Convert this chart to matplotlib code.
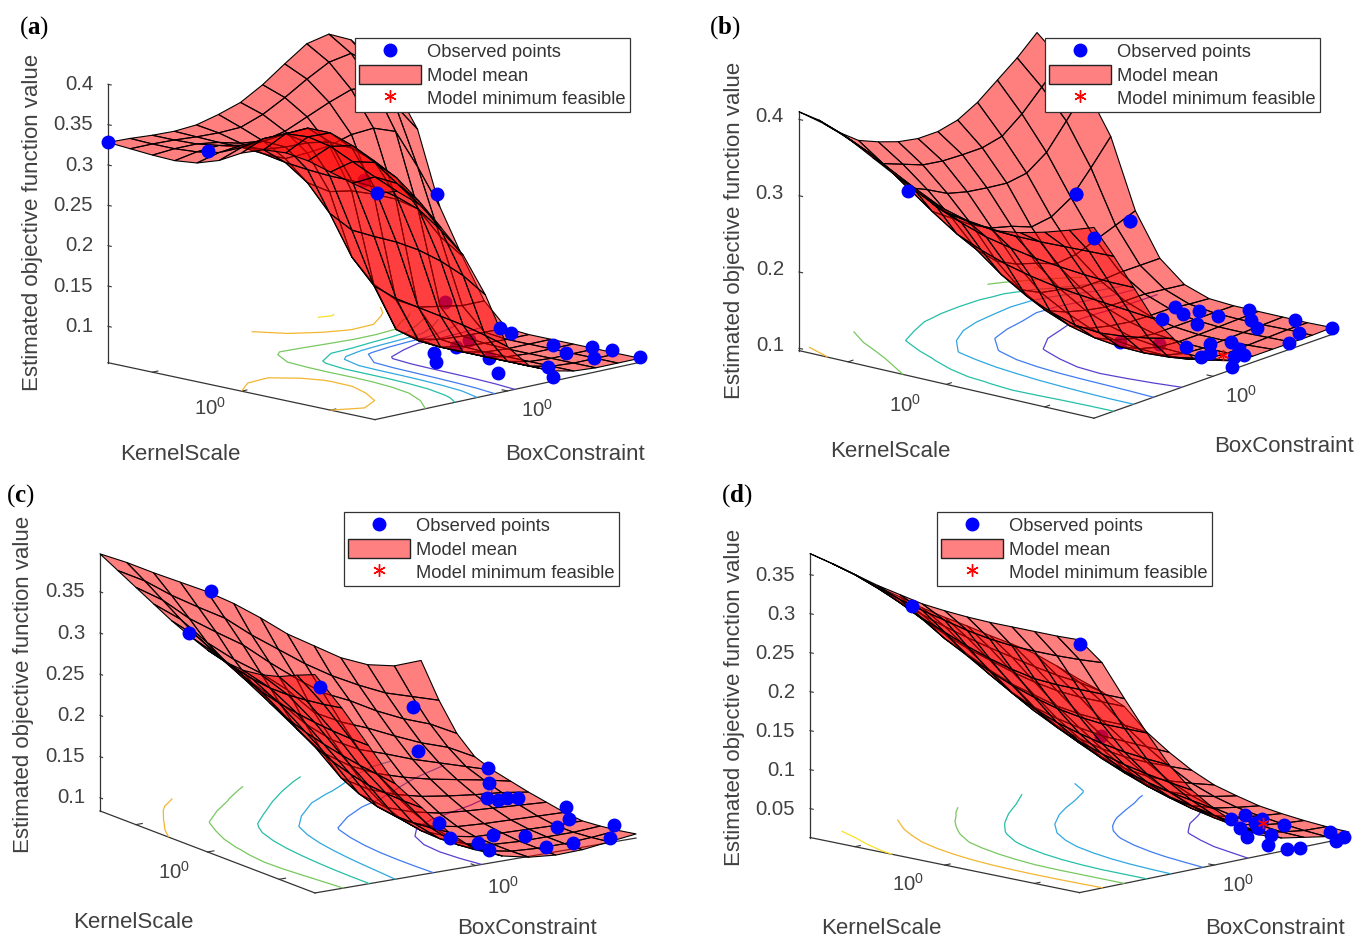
import numpy as np
import matplotlib
matplotlib.use('Agg')
import matplotlib.pyplot as plt
from matplotlib.lines import Line2D
from matplotlib.patches import Patch

plt.rcParams['font.family'] = 'Liberation Sans'
plt.rcParams['mathtext.fontset'] = 'custom'
plt.rcParams['mathtext.rm'] = 'Liberation Sans'
plt.rcParams['mathtext.bf'] = 'Liberation Serif:bold'
plt.rcParams['mathtext.default'] = 'regular'

# positions along the two log axes, 0.5 is 10^0
grid_pos = [0, 1/12, 2/12, 3/12, 4/12, 5/12, 6/12, 7/12, 8/12, 9/12, 10/12, 11/12, 1]

# estimated objective, rows go along BoxConstraint, columns along KernelScale
z_a = [
    [.328, .326, .324, .323, .326, .335, .350, .360, .362, .358, .350, .342, .335],
    [.327, .326, .326, .328, .333, .345, .362, .374, .376, .370, .357, .344, .332],
    [.325, .325, .326, .330, .336, .347, .362, .375, .375, .365, .350, .330, .310],
    [.324, .323, .322, .322, .325, .334, .345, .352, .350, .340, .325, .302, .275],
    [.326, .322, .315, .308, .303, .300, .298, .298, .296, .290, .280, .260, .235],
    [.333, .323, .312, .296, .272, .240, .225, .223, .222, .218, .210, .198, .180],
    [.342, .333, .318, .297, .255, .180, .150, .140, .135, .130, .125, .118, .110],
    [.358, .348, .330, .300, .250, .140, .090, .082, .080, .080, .080, .080, .080],
    [.378, .365, .342, .308, .240, .115, .072, .068, .068, .068, .068, .068, .068],
    [.397, .380, .352, .310, .228, .100, .066, .063, .062, .062, .062, .062, .062],
    [.403, .385, .350, .300, .210, .095, .064, .061, .060, .060, .060, .060, .060],
    [.390, .365, .320, .250, .170, .090, .063, .060, .060, .060, .060, .060, .060],
    [.360, .330, .285, .195, .140, .090, .062, .060, .060, .060, .060, .060, .060],
]
z_b = [
    [.410, .402, .390, .372, .354, .337, .322, .316, .313, .318, .326, .336, .347],
    [.390, .378, .363, .345, .328, .312, .303, .299, .297, .297, .298, .299, .300],
    [.365, .350, .333, .315, .296, .283, .272, .265, .259, .255, .252, .250, .250],
    [.345, .322, .298, .274, .252, .238, .227, .219, .213, .209, .206, .203, .200],
    [.334, .312, .286, .256, .222, .197, .177, .163, .153, .150, .153, .158, .165],
    [.325, .302, .272, .238, .198, .168, .148, .135, .127, .123, .122, .124, .130],
    [.320, .298, .265, .225, .185, .155, .137, .123, .115, .111, .110, .112, .118],
    [.320, .297, .261, .218, .177, .150, .130, .117, .108, .104, .103, .104, .108],
    [.326, .297, .258, .208, .167, .143, .125, .113, .105, .102, .101, .102, .105],
    [.340, .303, .262, .212, .170, .143, .124, .112, .105, .102, .102, .103, .105],
    [.360, .323, .280, .228, .180, .145, .124, .112, .105, .103, .103, .104, .105],
    [.380, .349, .312, .258, .190, .145, .121, .109, .105, .104, .104, .105, .105],
    [.404, .375, .345, .290, .200, .145, .118, .107, .105, .105, .105, .105, .106],
]
z_c = [
    [.396, .384, .372, .360, .348, .338, .329, .323, .321, .324, .330, .340, .349],
    [.380, .366, .351, .336, .322, .310, .302, .297, .294, .294, .296, .299, .303],
    [.362, .343, .323, .302, .288, .276, .268, .262, .258, .255, .253, .252, .252],
    [.345, .323, .301, .276, .256, .240, .229, .221, .215, .210, .206, .203, .200],
    [.328, .304, .280, .254, .228, .203, .190, .180, .173, .168, .166, .165, .165],
    [.308, .278, .253, .228, .195, .168, .146, .135, .128, .125, .125, .127, .130],
    [.285, .255, .228, .195, .170, .147, .127, .113, .105, .101, .100, .101, .103],
    [.260, .232, .205, .178, .153, .132, .115, .102, .093, .089, .088, .088, .090],
    [.240, .212, .190, .165, .142, .122, .107, .095, .087, .083, .082, .082, .083],
    [.220, .195, .172, .150, .130, .114, .102, .092, .085, .082, .080, .080, .080],
    [.206, .180, .157, .136, .120, .108, .098, .090, .084, .081, .080, .080, .081],
    [.199, .170, .145, .125, .110, .102, .095, .088, .083, .080, .080, .082, .085],
    [.200, .160, .128, .108, .100, .095, .090, .086, .082, .080, .082, .085, .089],
]
z_d = [
    [.377, .370, .362, .354, .348, .342, .339, .337, .336, .336, .336, .336, .337],
    [.358, .350, .340, .330, .322, .315, .308, .303, .300, .299, .299, .300, .302],
    [.338, .327, .314, .300, .288, .276, .266, .258, .252, .250, .250, .250, .250],
    [.317, .303, .287, .268, .252, .238, .226, .216, .208, .203, .200, .200, .200],
    [.298, .281, .262, .242, .222, .204, .190, .178, .170, .163, .158, .155, .153],
    [.278, .260, .238, .216, .193, .175, .160, .148, .138, .130, .124, .119, .115],
    [.260, .240, .217, .192, .168, .150, .134, .120, .110, .102, .095, .090, .085],
    [.243, .221, .196, .172, .148, .128, .110, .096, .085, .077, .071, .065, .060],
    [.225, .203, .177, .152, .130, .109, .090, .075, .064, .056, .050, .045, .040],
    [.208, .185, .160, .136, .114, .093, .074, .060, .048, .041, .036, .032, .030],
    [.190, .168, .146, .122, .101, .080, .062, .049, .039, .033, .029, .026, .025],
    [.168, .153, .134, .110, .088, .069, .053, .042, .034, .029, .025, .022, .020],
    [.145, .135, .122, .095, .075, .058, .045, .037, .030, .026, .023, .021, .020],
]

# observed points: kernel position, box position, objective
obs_a_k = [0, .24, .75, .24, .717, .93, .683, .608, .792, .886, .883, .947, .982, 1, .973, .965]
obs_a_b = [0, .134, .26, 1, .515, .535, .792, .908, .882, .836, .937, .948, .844, 1, .68, .707]
obs_a_z = [.328, .325, .30, .21, .07, .07, .09, .07, .07, .07, .07, .07, .07, .062, .07, .055]
hid_a_k = [.615, .63, .658, .625, .635, .783]
hid_a_b = [.346, .637, .70, .683, .59, .649]
hid_a_z = [.30, .13, .08, .07, .07, .07]

obs_b_k = [.353, .25, .34, .34, .619, .575, .632, .646, .719, .72, .746, .809, .868, .897, .981, 1, 1, .862, .892, .949, .915, .92, .986, 1, 1, .832]
obs_b_b = [.02, .856, .97, .82, .757, .867, .83, .88, .782, .87, .966, .897, .849, .972, .885, .82, 1, .658, .709, .672, .593, .548, .605, .63, .58, .595]
obs_b_z = [.335, .23, .19, .185, .11, .11, .11, .11, .11, .11, .11, .11, .11, .11, .11, .105, .106, .11, .11, .11, .11, .11, .11, .11, .10, .11]
hid_b_k = [.665, .76, .25, .34]
hid_b_b = [.525, .57, .856, .97]
hid_b_z = [.11, .11, .23, .19]
min_b = [.935, .623, .105]

obs_c_k = [.017, .406, .149, .14, .24, .31, .435, .524, .557, .553, .569, .699, .774, .856, .811, .931, .865, .988, .836, .786, .68, .993, .901, 1]
obs_c_b = [.334, .005, .586, .88, .83, 1, .92, .854, .867, .897, .921, .588, .572, .604, .681, .588, .744, .728, .864, .935, .996, .808, .998, .92]
obs_c_z = [.33, .34, .21, .165, .125, .10, .10, .095, .095, .095, .095, .10, .09, .09, .09, .09, .09, .09, .09, .09, .09, .09, .09, .09]

obs_d_k = [.37, .99, .734, .724, .792, .815, .832, .926, .887, .953, 1, 1, 1, 1, 1, 1, .866]
obs_d_b = [.01, .01, .828, .89, .885, .836, .764, .696, .871, .758, .70, .77, .82, .93, .95, .98, .797]
obs_d_z = [.335, .33, .03, .03, .03, .03, .03, .03, .03, .03, .025, .015, .012, .025, .012, .015, .03]
hid_d_k = [.80]
hid_d_b = [.28]
hid_d_z = [.18]
min_d = [.83, .85, .03]

ticks_a = [.1, .15, .2, .25, .3, .35, .4]
ticks_b = [.1, .2, .3, .4]
ticks_c = [.1, .15, .2, .25, .3, .35]
ticks_d = [.05, .1, .15, .2, .25, .3, .35]

levels_a = [.1, .15, .2, .25, .3, .35, .4]
levels_b = [.15, .2, .25, .3, .35, .4]
levels_c = [.1, .15, .2, .25, .3, .35]
levels_d = [.05, .1, .15, .2, .25, .3, .35]

parula = ['#5b3fd0', '#3f7cf0', '#2fa8e0', '#25bfa8', '#78c860', '#f2b632', '#f7e02a']

W_PX, H_PX = 1366, 940
TXT = '#404040'

fig = plt.figure(figsize=(W_PX / 100, H_PX / 100), dpi=100)


def px(x, y):
    return x / W_PX, 1 - y / H_PX


def place_axes(ax, left, right, z0, z1, zscale, azim, elev):
    # square axes position so the floor corners land on the wanted pixels
    a = np.radians(abs(azim))
    e = np.radians(elev)
    spread = np.sin(a) + np.cos(a)
    width = right[0] - left[0]
    bz = zscale * (z1 - z0) * spread / (width * np.cos(e))
    k = 1.8294640721620434 * 25 / 24 / np.linalg.norm([1, 1, bz])
    ax.set_box_aspect((1, 1, bz))
    ax.view_init(elev=elev, azim=azim)
    sc = width / (k * spread)
    x0, x1 = ax.viewLim.intervalx
    y0, y1 = ax.viewLim.intervaly
    side = sc * 10 * (x1 - x0)
    cx = (left[0] + right[0]) / 2
    cy = (left[1] + right[1]) / 2 - 0.5 * zscale * (z1 - z0)
    ax_left = cx - side * (-x0) / (x1 - x0)
    ax_bottom = (H_PX - cy) - side * (-y0) / (y1 - y0)
    ax.set_position([ax_left / W_PX, ax_bottom / H_PX, side / W_PX, side / H_PX])


def draw_panel(z, obs, hid, star, ticks, levels, left, right, z0, z1, zscale, azim, elev,
               tick_fmt, labels, legend_xy):
    ax = fig.add_subplot(projection='3d', proj_type='ortho', computed_zorder=False)
    ax.set_axis_off()
    ax.patch.set_visible(False)
    place_axes(ax, left, right, z0, z1, zscale, azim, elev)
    ax.set_xlim(0, 1)
    ax.set_ylim(0, 1)
    ax.set_zlim(z0, z1)

    X, Y = np.meshgrid(grid_pos, grid_pos)
    Z = np.array(z)

    colors = parula[:len(levels)]
    ax.contour(X, Y, Z, levels=levels, zdir='z', offset=z0, colors=colors,
               linewidths=0.9, zorder=1)

    if hid is not None:
        ax.plot(hid[0], hid[1], hid[2], 'o', color='#0000ff', ms=9, zorder=1.5)

    ax.plot_surface(X, Y, Z, rstride=1, cstride=1, color=(1, 0, 0, 0.5),
                    edgecolor=(0, 0, 0, 1), linewidth=0.8, shade=False, zorder=2)

    ax.plot(obs[0], obs[1], obs[2], 'o', color='#0000ff', ms=9, zorder=3)
    if star is not None:
        ax.plot([star[0]], [star[1]], [star[2]], marker=(6, 2, 0), color='#ff0000',
                ms=8, mew=1, ls='none', zorder=3.5)

    # box lines, the axes themselves are off
    ax.plot([0, 0], [0, 0], [z0, z1], color='#333333', lw=0.9, zorder=0.5)
    ax.plot([0, 1], [0, 0], [z0, z0], color='#333333', lw=0.9, zorder=0.5)
    ax.plot([1, 1], [0, 1], [z0, z0], color='#333333', lw=0.9, zorder=0.5)

    for t in ticks:
        ax.plot([0, 0.012], [0, 0], [t, t], color='#333333', lw=0.8, zorder=0.5)
        xp = left[0] - 15
        yp = left[1] - (t - z0) * zscale
        fig.text(*px(xp, yp), tick_fmt(t), ha='right', va='center', fontsize=14.7, color=TXT)

    for t in [1 / 6, 1 / 2, 5 / 6]:
        ax.plot([t, t], [0, 0.02], [z0, z0], color='#333333', lw=0.8, zorder=0.5)
    ax.plot([1, 0.98], [0.5, 0.5], [z0, z0], color='#333333', lw=0.8, zorder=0.5)

    fig.text(*px(*labels['tick_k']), '$10^0$', ha='center', va='center', fontsize=14.7, color=TXT)
    fig.text(*px(*labels['tick_b']), '$10^0$', ha='center', va='center', fontsize=14.7, color=TXT)
    fig.text(*px(*labels['kernel']), 'KernelScale', ha='center', va='center', fontsize=16, color=TXT)
    fig.text(*px(*labels['box']), 'BoxConstraint', ha='center', va='center', fontsize=16, color=TXT)
    fig.text(*px(*labels['ylabel']), 'Estimated objective function value', rotation=90,
             ha='center', va='center', fontsize=16, color=TXT)
    fig.text(*px(*labels['panel']), '($\\mathbf{%s}$)' % labels['name'], ha='center', va='center',
             fontsize=18, family='Liberation Serif', color='black')

    handles = [
        Line2D([], [], marker='o', color='#0000ff', ls='none', ms=9),
        Patch(facecolor='#ff8080', edgecolor='#222222', lw=1),
        Line2D([], [], marker=(6, 2, 0), color='#ff0000', ls='none', ms=9, mew=1),
    ]
    leg = fig.legend(handles, ['Observed points', 'Model mean', 'Model minimum feasible'],
                     loc='upper left', bbox_to_anchor=px(*legend_xy), borderaxespad=0,
                     fontsize=13.2, fancybox=False, framealpha=1, edgecolor='#333333',
                     handlelength=3.4, handleheight=1.15, handletextpad=0.3,
                     labelspacing=0.22, borderpad=0.22)
    leg.get_frame().set_linewidth(0.9)
    for text in leg.get_texts():
        text.set_color('#333333')


def fmt(t):
    return ('%.2f' % t).rstrip('0')


draw_panel(z_a, (obs_a_k, obs_a_b, obs_a_z), (hid_a_k, hid_a_b, hid_a_z), None, ticks_a, levels_a,
           (108, 363), (640, 362), 0.055, 0.4, 807, -45.2, 12.4, fmt,
           {'tick_k': (210, 408), 'tick_b': (537, 410), 'kernel': (180, 455), 'box': (575, 455),
            'ylabel': (33, 222), 'panel': (34, 28), 'name': 'a'}, (355, 38))
draw_panel(z_b, (obs_b_k, obs_b_b, obs_b_z), (hid_b_k, hid_b_b, hid_b_z), min_b, ticks_b, levels_b,
           (799, 348), (1332, 337), 0.097, 0.41, 763, -51.1, 16.5, fmt,
           {'tick_k': (905, 405), 'tick_b': (1241, 396), 'kernel': (890, 452), 'box': (1284, 447),
            'ylabel': (735, 230), 'panel': (725, 28), 'name': 'b'}, (1045, 38))
draw_panel(z_c, (obs_c_k, obs_c_b, obs_c_z), None, None, ticks_c, levels_c,
           (100, 811), (636, 838), 0.084, 0.396, 824, -33.8, 14.8, fmt,
           {'tick_k': (174, 872), 'tick_b': (503, 887), 'kernel': (133, 922), 'box': (527, 928),
            'ylabel': (24, 684), 'panel': (20, 496), 'name': 'c'}, (344, 512))
draw_panel(z_d, (obs_d_k, obs_d_b, obs_d_z), (hid_d_k, hid_d_b, hid_d_z), min_d, ticks_d, levels_d,
           (810, 838), (1349, 837), 0.013, 0.377, 780, -45, 11.8, fmt,
           {'tick_k': (908, 884), 'tick_b': (1238, 885), 'kernel': (881, 929), 'box': (1275, 929),
            'ylabel': (735, 697), 'panel': (737, 496), 'name': 'd'}, (937, 512))

fig.savefig('out.png', dpi=100)
